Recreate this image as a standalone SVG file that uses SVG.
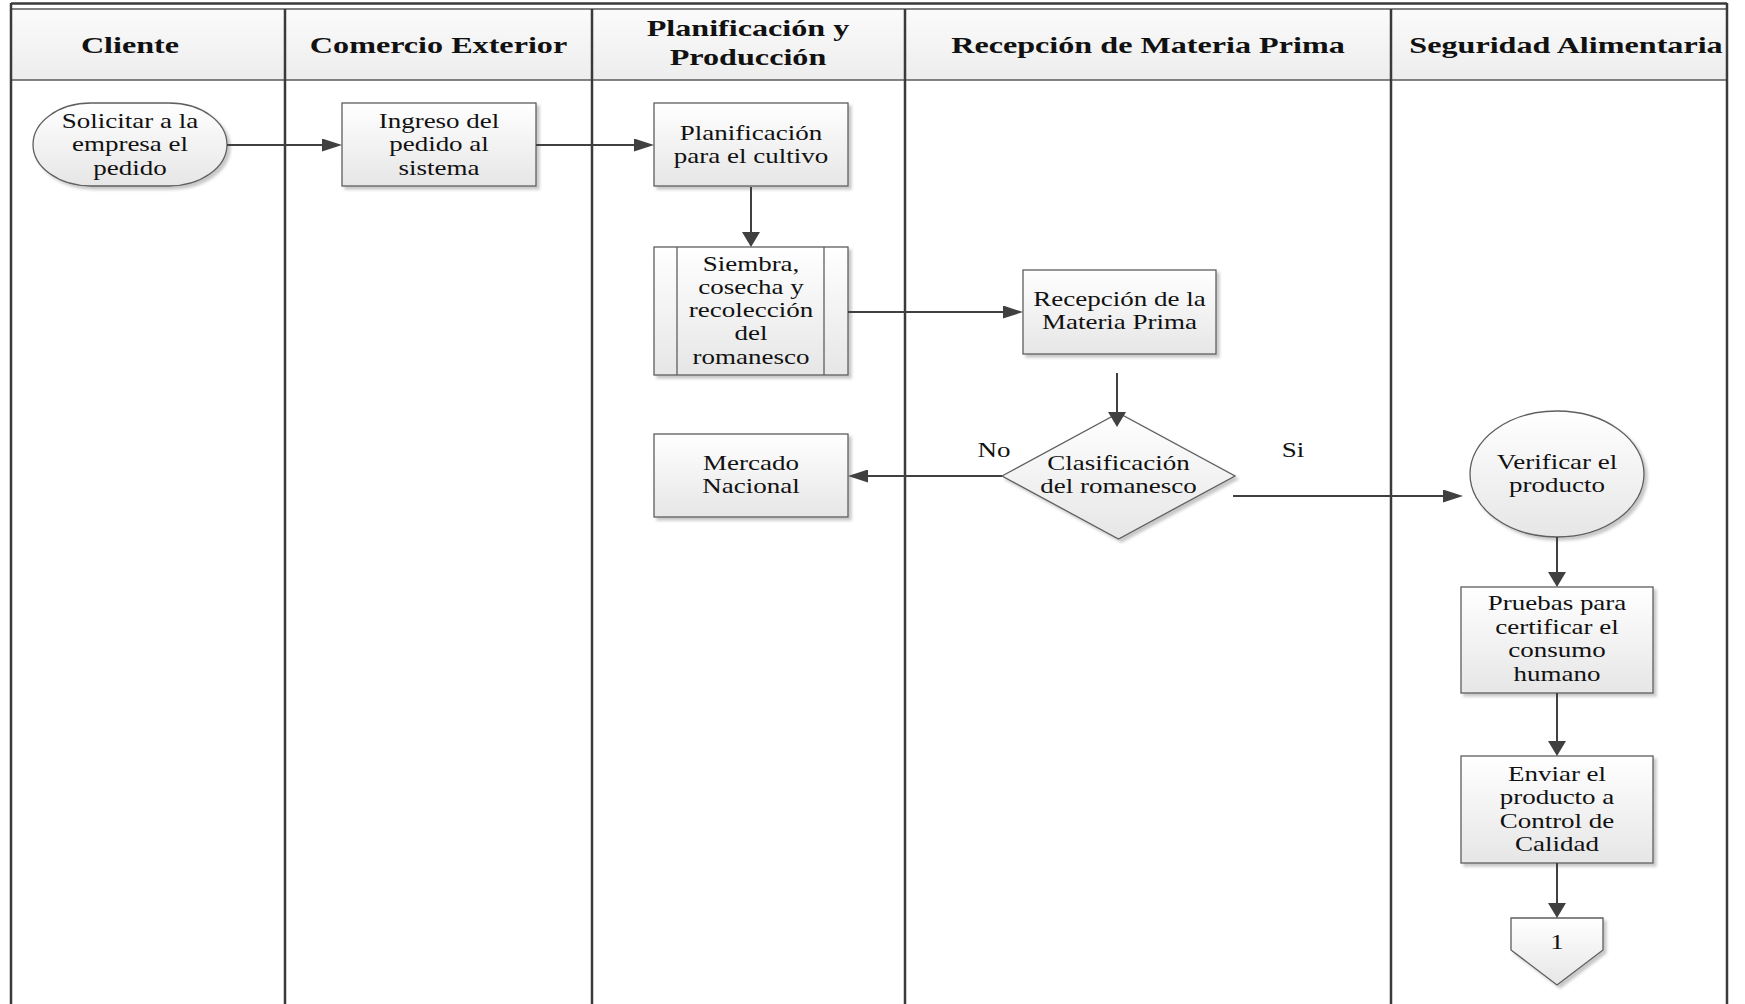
<svg xmlns="http://www.w3.org/2000/svg" width="1745" height="1004" viewBox="0 0 1745 1004">
  <style>
    .lane { stroke: #3a3a3a; stroke-width: 2.5; fill: none; }
    .hline { stroke: #5a5a5a; stroke-width: 1.5; fill: none; }
    .node { fill: url(#nodeFill); stroke: #5e5e5e; stroke-width: 1.3; filter: url(#shadow); }
    .inner { stroke: #5e5e5e; stroke-width: 1.3; fill: none; }
    .conn { stroke: #404040; stroke-width: 2; fill: none; }
    .ch { marker-end: url(#arrowH); }
    .cv { marker-end: url(#arrowV); }
    .hdr { font-family: "Liberation Serif", "Times New Roman", serif; font-weight: bold; font-size: 24px; fill: #111; text-anchor: middle; }
    .txt { font-family: "Liberation Serif", "Times New Roman", serif; font-size: 20px; fill: #111; text-anchor: middle; }
  </style>
  <defs>
    <linearGradient id="nodeFill" x1="0" y1="0" x2="0" y2="1">
      <stop offset="0" stop-color="#ffffff"/>
      <stop offset="1" stop-color="#e6e6e6"/>
    </linearGradient>
    <linearGradient id="hdrFill" x1="0" y1="0" x2="0" y2="1">
      <stop offset="0" stop-color="#fbfbfb"/>
      <stop offset="1" stop-color="#ededed"/>
    </linearGradient>
    <filter id="shadow" x="-10%" y="-10%" width="130%" height="130%">
      <feGaussianBlur in="SourceAlpha" stdDeviation="1.5"/>
      <feOffset dx="3" dy="3" result="off"/>
      <feFlood flood-color="#000" flood-opacity="0.22"/>
      <feComposite in2="off" operator="in"/>
      <feMerge><feMergeNode/><feMergeNode in="SourceGraphic"/></feMerge>
    </filter>
    <marker id="arrowH" markerUnits="userSpaceOnUse" markerWidth="20" markerHeight="13" refX="17" refY="6.5" orient="auto">
      <path d="M0,0 L20,6.5 L0,13 z" fill="#404040"/>
    </marker>
    <marker id="arrowV" markerUnits="userSpaceOnUse" markerWidth="15" markerHeight="18" refX="12" refY="9" orient="auto">
      <path d="M0,0 L15,9 L0,18 z" fill="#404040"/>
    </marker>
  </defs>

  <rect width="1745" height="1004" fill="#ffffff"/>

  <!-- pool frame, header band and swimlane dividers -->
  <g id="lanes">
    <rect x="11" y="9" width="1716" height="71" fill="url(#hdrFill)"/>
    <line class="hline" x1="11" y1="9" x2="1727" y2="9"/>
    <line class="hline" x1="11" y1="80" x2="1727" y2="80"/>
    <line class="lane" x1="11" y1="3.5" x2="1727" y2="3.5"/>
    <line class="lane" x1="11" y1="3" x2="11" y2="1004"/>
    <line class="lane" x1="285" y1="9" x2="285" y2="1004"/>
    <line class="lane" x1="592" y1="9" x2="592" y2="1004"/>
    <line class="lane" x1="905" y1="9" x2="905" y2="1004"/>
    <line class="lane" x1="1391" y1="9" x2="1391" y2="1004"/>
    <line class="lane" x1="1727" y1="3" x2="1727" y2="1004"/>
  </g>

  <g id="headers">
    <text class="hdr" transform="matrix(1.34 0 0 1 130 0)" x="0" y="53">Cliente</text>
    <text class="hdr" transform="matrix(1.34 0 0 1 438.5 0)" x="0" y="53">Comercio Exterior</text>
    <text class="hdr" transform="matrix(1.34 0 0 1 748 0)" x="0" y="36">Planificación y<tspan x="0" y="65">Producción</tspan></text>
    <text class="hdr" transform="matrix(1.34 0 0 1 1148 0)" x="0" y="53">Recepción de Materia Prima</text>
    <text class="hdr" transform="matrix(1.34 0 0 1 1566 0)" x="0" y="53">Seguridad Alimentaria</text>
  </g>

  <g id="solicitar">
    <rect class="node" x="33" y="103" width="194" height="83" rx="58" ry="41.5"/>
    <text class="txt" transform="matrix(1.35 0 0 1 130 0)" x="0" y="128">Solicitar a la<tspan x="0" y="151.5">empresa el</tspan><tspan x="0" y="175">pedido</tspan></text>
  </g>

  <g id="ingreso">
    <rect class="node" x="342" y="103" width="194" height="83"/>
    <text class="txt" transform="matrix(1.35 0 0 1 439 0)" x="0" y="128">Ingreso del<tspan x="0" y="151.5">pedido al</tspan><tspan x="0" y="175">sistema</tspan></text>
  </g>

  <g id="planificacion">
    <rect class="node" x="654" y="103" width="194" height="83"/>
    <text class="txt" transform="matrix(1.35 0 0 1 751 0)" x="0" y="140">Planificación<tspan x="0" y="163.5">para el cultivo</tspan></text>
  </g>

  <g id="siembra">
    <rect class="node" x="654" y="247" width="194" height="128"/>
    <line class="inner" x1="677" y1="247" x2="677" y2="375"/>
    <line class="inner" x1="824" y1="247" x2="824" y2="375"/>
    <text class="txt" transform="matrix(1.35 0 0 1 751 0)" x="0" y="271">Siembra,<tspan x="0" y="294">cosecha y</tspan><tspan x="0" y="317">recolección</tspan><tspan x="0" y="340.5">del</tspan><tspan x="0" y="364">romanesco</tspan></text>
  </g>

  <g id="recepcion">
    <rect class="node" x="1023" y="270" width="193" height="84"/>
    <text class="txt" transform="matrix(1.35 0 0 1 1119.5 0)" x="0" y="306">Recepción de la<tspan x="0" y="329">Materia Prima</tspan></text>
  </g>

  <g id="clasificacion">
    <polygon class="node" points="1002,476 1118.5,413 1235,476 1118.5,539"/>
    <text class="txt" transform="matrix(1.35 0 0 1 1118.5 0)" x="0" y="470.5">Clasificación<tspan x="0" y="493.5">del romanesco</tspan></text>
  </g>

  <g id="mercado">
    <rect class="node" x="654" y="434" width="194" height="83"/>
    <text class="txt" transform="matrix(1.35 0 0 1 751 0)" x="0" y="470.5">Mercado<tspan x="0" y="493.5">Nacional</tspan></text>
  </g>

  <g id="verificar">
    <ellipse class="node" cx="1557" cy="474" rx="87" ry="63"/>
    <text class="txt" transform="matrix(1.35 0 0 1 1557 0)" x="0" y="469">Verificar el<tspan x="0" y="492">producto</tspan></text>
  </g>

  <g id="pruebas">
    <rect class="node" x="1461" y="587" width="192" height="106"/>
    <text class="txt" transform="matrix(1.35 0 0 1 1557 0)" x="0" y="610.5">Pruebas para<tspan x="0" y="634">certificar el</tspan><tspan x="0" y="657.5">consumo</tspan><tspan x="0" y="681">humano</tspan></text>
  </g>

  <g id="enviar">
    <rect class="node" x="1461" y="756" width="192" height="107"/>
    <text class="txt" transform="matrix(1.35 0 0 1 1557 0)" x="0" y="781">Enviar el<tspan x="0" y="804.5">producto a</tspan><tspan x="0" y="828">Control de</tspan><tspan x="0" y="851.5">Calidad</tspan></text>
  </g>

  <g id="conector1">
    <polygon class="node" points="1511,918 1603,918 1603,950 1557,985 1511,950"/>
    <text class="txt" transform="matrix(1.35 0 0 1 1557 0)" x="0" y="949">1</text>
  </g>

  <!-- connectors, drawn over the shapes so arrowheads stay visible -->
  <g id="connectors">
    <path class="conn ch" d="M227,145 H339"/>
    <path class="conn ch" d="M536,145 H651"/>
    <path class="conn cv" d="M751,187 V244"/>
    <path class="conn ch" d="M848,312 H1020"/>
    <path class="conn cv" d="M1117,373 V424"/>
    <path class="conn ch" d="M1002,476 H851"/>
    <path class="conn ch" d="M1233,496 H1460"/>
    <path class="conn cv" d="M1557,537 V584"/>
    <path class="conn cv" d="M1557,693 V753"/>
    <path class="conn cv" d="M1557,863 V915"/>
    <text class="txt" transform="matrix(1.35 0 0 1 994 0)" x="0" y="457">No</text>
    <text class="txt" transform="matrix(1.35 0 0 1 1293 0)" x="0" y="457">Si</text>
  </g>
</svg>
